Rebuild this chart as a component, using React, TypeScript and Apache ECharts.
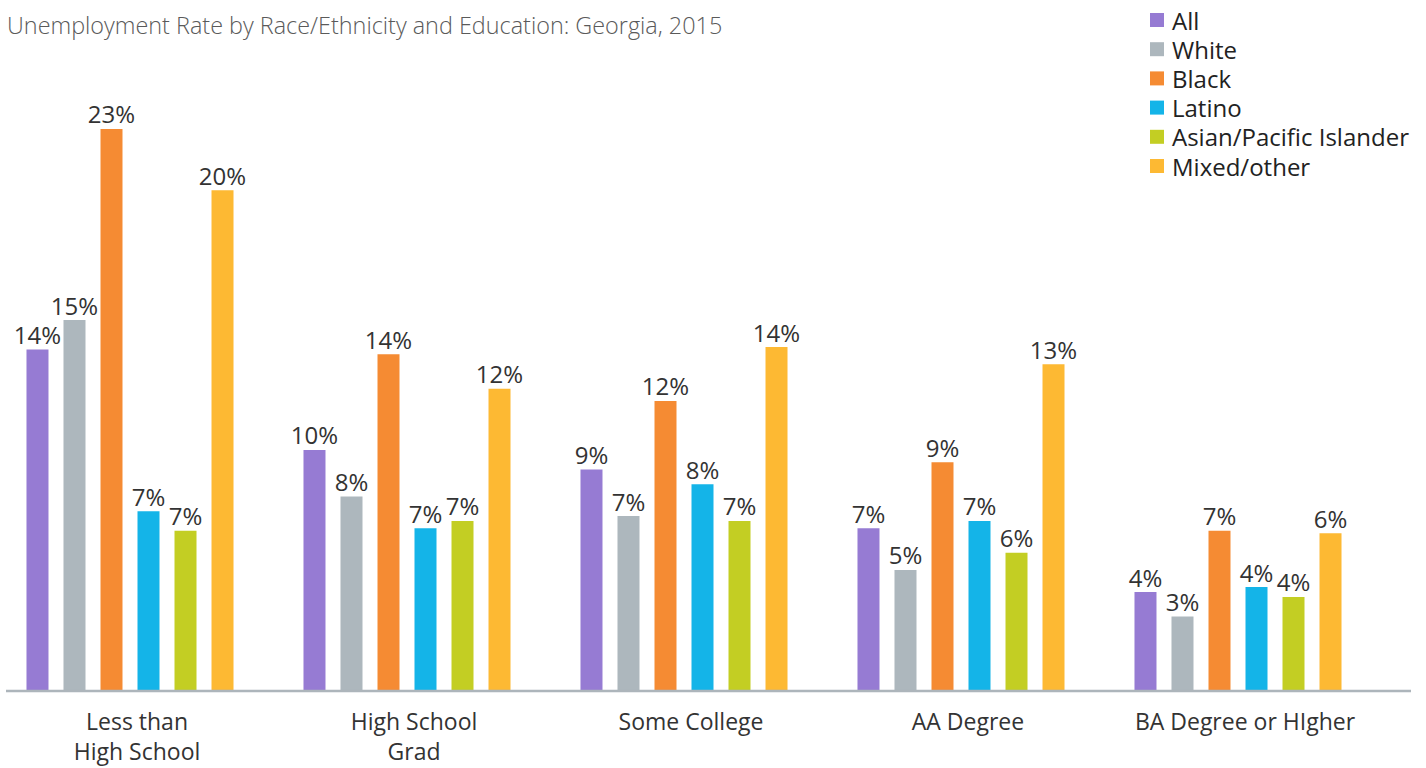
import React, { useEffect, useRef } from "react";
import * as echarts from "echarts";

const categories = ["Less than\nHigh School", "High School\nGrad", "Some College", "AA Degree", "BA Degree or HIgher"];
const seriesNames = ["All", "White", "Black", "Latino", "Asian/Pacific Islander", "Mixed/other"];
const allVals = [13.9, 9.8, 9.0, 6.6, 4.0];
const whiteVals = [15.1, 7.9, 7.1, 4.9, 3.0];
const blackVals = [22.9, 13.7, 11.8, 9.3, 6.5];
const latinoVals = [7.3, 6.6, 8.4, 6.9, 4.2];
const asianVals = [6.5, 6.9, 6.9, 5.6, 3.8];
const mixedVals = [20.4, 12.3, 14.0, 13.3, 6.4];
const colors = ["#967BD3", "#ADB7BD", "#F58B33", "#14B4E8", "#C3CE23", "#FDB933"];
const title = "Unemployment Rate by Race/Ethnicity and Education: Georgia, 2015";

const FONT = "'Open Sans', 'Noto Sans', sans-serif";

export default function App() {
  const ref = useRef<HTMLDivElement>(null);
  useEffect(() => {
    if (!ref.current) return;
    const chart = echarts.init(ref.current, null, { renderer: "svg" });
    const data = [allVals, whiteVals, blackVals, latinoVals, asianVals, mixedVals];
    chart.setOption({
      animation: false,
      title: {
        text: title,
        left: 7,
        top: 13,
        padding: 0,
        textStyle: { fontFamily: FONT, fontSize: 23.4, fontWeight: 300, color: "#5a5a5a" },
      },
      legend: {
        orient: "vertical",
        left: 1150,
        top: 8,
        padding: 0,
        itemWidth: 14,
        itemHeight: 14,
        itemGap: 5.2,
        icon: "rect",
        data: seriesNames,
        textStyle: { fontFamily: FONT, fontSize: 24, color: "#222", lineHeight: 24, padding: [0, 0, 0, 3] },
      },
      grid: { left: -8.5, width: 1385, top: 77.5, bottom: 78, containLabel: false, outerBoundsMode: "none" },
      xAxis: {
        type: "category",
        data: categories,
        axisLine: { show: false },
        axisTick: { show: false },
        axisLabel: {
          fontFamily: FONT,
          fontSize: 23,
          color: "#333",
          lineHeight: 30,
          margin: 16,
          padding: [0, 0, 0, 14],
          interval: 0,
        },
      },
      yAxis: {
        type: "value",
        min: 0,
        max: 25,
        show: false,
        splitLine: { show: false },
      },
      graphic: [
        {
          type: "line",
          shape: { x1: 6, y1: 691, x2: 1411, y2: 691 },
          style: { stroke: "#ADB5BB", lineWidth: 2.5 },
          z: 10,
        },
      ],
      series: seriesNames.map((name, i) => ({
        name,
        type: "bar",
        data: data[i],
        barWidth: 22,
        barGap: "68.2%",
        itemStyle: { color: colors[i] },
        label: {
          show: true,
          position: "top",
          distance: 3,
          fontFamily: FONT,
          fontSize: 24,
          color: "#333",
          formatter: (p: any) => Math.round(p.value) + "%",
        },
      })),
    });
    return () => chart.dispose();
  }, []);
  return <div ref={ref} style={{ width: 1426, height: 768, position: "absolute", left: 0, top: 0 }} />;
}
